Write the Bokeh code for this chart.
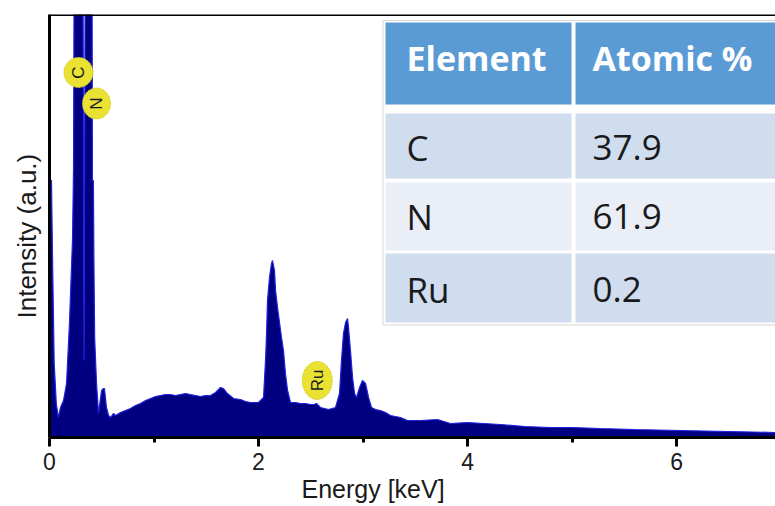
from math import pi

from bokeh.core.properties import value
from bokeh.embed import file_html
from bokeh.models import ColumnDataSource, FixedTicker, Range1d, Span, Title
from bokeh.plotting import figure
from bokeh.resources import INLINE

# ---- EDS spectrum (energy in keV, intensity in arbitrary units) ----
energy_kev = [
    0.000, 0.005, 0.019, 0.029, 0.045, 0.065, 0.085, 0.105, 0.134, 0.163,
    0.191, 0.220, 0.230, 0.239, 0.277, 0.316, 0.322, 0.331, 0.340, 0.349,
    0.392, 0.405, 0.411, 0.420, 0.425, 0.432, 0.450, 0.469, 0.498, 0.517,
    0.526, 0.545, 0.565, 0.584, 0.612, 0.632, 0.679, 0.727, 0.775, 0.823,
    0.871, 0.919, 0.967, 1.014, 1.062, 1.110, 1.158, 1.206, 1.254, 1.302,
    1.349, 1.397, 1.445, 1.493, 1.541, 1.589, 1.636, 1.665, 1.703, 1.761,
    1.828, 1.876, 1.923, 1.962, 2.000, 2.048, 2.067, 2.077, 2.086, 2.105,
    2.124, 2.134, 2.153, 2.163, 2.182, 2.201, 2.220, 2.239, 2.258, 2.278,
    2.306, 2.354, 2.402, 2.450, 2.498, 2.530, 2.555, 2.593, 2.632, 2.670,
    2.737, 2.775, 2.794, 2.813, 2.833, 2.852, 2.861, 2.880, 2.900, 2.919,
    2.938, 2.967, 2.995, 3.024, 3.053, 3.081, 3.120, 3.167, 3.215, 3.263,
    3.359, 3.426, 3.550, 3.713, 3.837, 4.000, 4.316, 4.550, 4.794, 5.000,
    5.273, 5.600, 6.038, 6.500, 6.947,
]
intensity = [
    250, 257, 257, 179, 74, 34, 20, 30, 37, 54,
    114, 197, 269, 600, 1500, 600, 423, 77, 423, 700,
    1200, 600, 257, 257, 177, 100, 54, 24, 47, 49,
    49, 30, 22, 20, 24, 22, 25, 27, 29, 32,
    34, 37, 39, 41, 42, 43, 43, 42, 43, 44,
    43, 42, 41, 42, 42, 45, 50, 49, 44, 39,
    38, 36, 35, 35, 35, 40, 77, 104, 137, 160,
    174, 177, 167, 147, 130, 115, 100, 87, 64, 47,
    35, 35, 34, 34, 33, 33, 34, 30, 29, 28,
    30, 44, 77, 104, 115, 119, 110, 87, 60, 44,
    40, 50, 57, 54, 40, 30, 28, 27, 25, 22,
    20, 17, 17, 18, 14, 15, 13, 11, 10, 10,
    9, 8, 7, 6, 5,
]

# ---- peak markers ----
marker_labels = ["C", "N", "Ru"]
marker_energy = [0.277, 0.450, 2.562]
marker_intensity = [365, 334, 57]

# ---- composition table ----
table_header = ["Element", "Atomic %"]
elements = ["C", "N", "Ru"]
atomic_percent = [37.9, 61.9, 0.2]

x_major_ticks = [0, 2, 4, 6]
x_minor_ticks = [1, 3, 5]

# ---- page geometry (pixels) ----
W, H = 775, 506
FRAME_LEFT, FRAME_TOP, FRAME_BOTTOM = 49, 14, 437
X_END = 6.947
Y_END = 423.0
KEV_PER_PX = X_END / (W - FRAME_LEFT)
UNIT_PER_PX = Y_END / (FRAME_BOTTOM - FRAME_TOP)


def dx(px):
    return (px - FRAME_LEFT) * KEV_PER_PX


def dy(py):
    return (FRAME_BOTTOM - py) * UNIT_PER_PX


p = figure(
    width=W, height=H, output_backend="svg", toolbar_location=None,
    x_range=Range1d(0, X_END), y_range=Range1d(0, Y_END),
    min_border_left=FRAME_LEFT, min_border_right=0,
    min_border_top=FRAME_TOP, min_border_bottom=H - FRAME_BOTTOM,
    background_fill_color="white", border_fill_color="white",
)
p.grid.visible = False
p.outline_line_color = None

# spectrum
p.varea(x=energy_kev, y1=0, y2=intensity, fill_color="#000080")
p.line(x=energy_kev, y=intensity, line_color="#2121e0", line_width=1.2)

# top frame line
p.add_layout(Span(location=Y_END, dimension="width", line_color="black", line_width=3))

# axes
xa = p.xaxis[0]
xa.ticker = FixedTicker(ticks=x_major_ticks, minor_ticks=x_minor_ticks)
xa.axis_line_width = 3
xa.axis_line_color = "black"
xa.major_tick_line_width = 3
xa.major_tick_line_color = "black"
xa.major_tick_in = 0
xa.major_tick_out = 9
xa.minor_tick_line_width = 3
xa.minor_tick_line_color = "black"
xa.minor_tick_in = 0
xa.minor_tick_out = 5
xa.major_label_text_font = "Liberation Sans"
xa.major_label_text_font_size = "23px"
xa.major_label_text_color = "#1a1a1a"
xa.major_label_standoff = 6

ya = p.yaxis[0]
ya.ticker = FixedTicker(ticks=[])
ya.axis_line_width = 3
ya.axis_line_color = "black"
ya.major_tick_line_color = None
ya.minor_tick_line_color = None

# axis titles
p.add_layout(Title(text="Energy [keV]", align="left", offset=301 - FRAME_LEFT,
                   text_font="Liberation Sans", text_font_size="25px",
                   text_font_style="normal", text_color="#1a1a1a", standoff=0), "below")
p.add_layout(Title(text="Intensity (a.u.)", align="left", offset=FRAME_BOTTOM - 318,
                   text_font="Liberation Sans", text_font_size="26px",
                   text_font_style="normal", text_color="#1a1a1a", standoff=16), "left")

# element markers
marker_src = ColumnDataSource(dict(
    x=marker_energy, y=marker_intensity, label=marker_labels,
    w=[29, 28, 30], h=[30, 31, 38],
))
p.ellipse(x="x", y="y", width="w", height="h", width_units="screen", height_units="screen",
          source=marker_src, fill_color="#E9E232", line_color="#d8cf28",
          line_width=1, line_dash="2 1")
p.text(x="x", y="y", text="label", source=marker_src, angle=pi / 2,
       text_align="center", text_baseline="middle", text_color="#1a1a1a",
       text_font=value("Liberation Sans"), text_font_size="17px")

# composition table
col_edges = [(385, 571), (575, 800)]
row_edges = [(22, 104), (113, 178), (182, 250), (253, 322)]
row_colors = ["#5B9BD5", "#CFDDEE", "#E9EEF7", "#CFDDEE"]

p.quad(left=dx(382.5), right=dx(800), top=dy(20), bottom=dy(324.5),
       fill_color="white", line_color="#d6d6d6", line_width=1)

cells = dict(left=[], right=[], top=[], bottom=[], color=[])
for (top, bottom), color in zip(row_edges, row_colors):
    for left, right in col_edges:
        cells["left"].append(dx(left))
        cells["right"].append(dx(right))
        cells["top"].append(dy(top))
        cells["bottom"].append(dy(bottom))
        cells["color"].append(color)
p.quad(left="left", right="right", top="top", bottom="bottom", fill_color="color",
       line_color=None, source=ColumnDataSource(cells))

text_x = [dx(406), dx(592)]
header_mid = 57
row_mids = [147, 216, 289]

p.text(x=text_x, y=[dy(header_mid)] * 2, text=table_header,
       text_font=value("Open Sans"), text_font_style="bold", text_font_size="34px",
       text_color="white", text_align="left", text_baseline="middle")

body_text = []
body_x = []
body_y = []
for el, pct, mid in zip(elements, atomic_percent, row_mids):
    body_text += [el, f"{pct:.1f}"]
    body_x += text_x
    body_y += [dy(mid)] * 2
p.text(x=body_x, y=body_y, text=body_text, text_font=value("Open Sans"),
       text_font_size="35px", text_color="#1a1a1a", text_align="left",
       text_baseline="middle")

open("out.html", "w").write(file_html(p, INLINE))
